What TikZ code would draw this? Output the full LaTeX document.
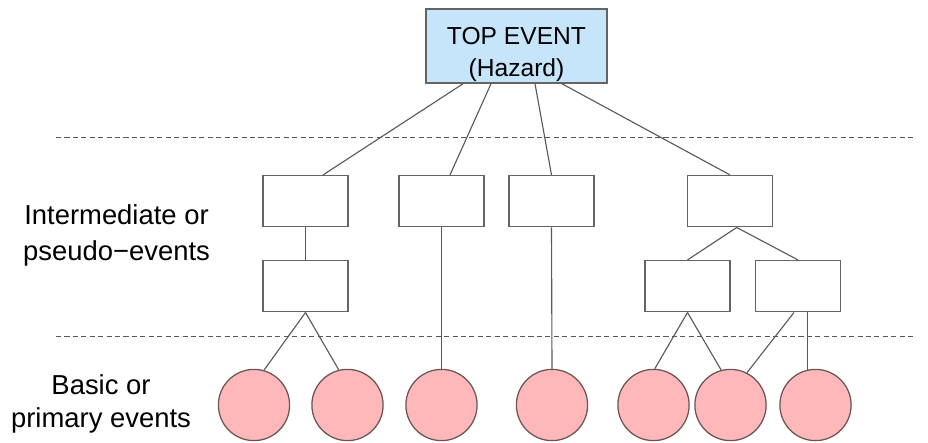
\documentclass[tikz,border=0pt]{standalone}
\usepackage{fontspec}
\setmainfont{Liberation Sans}
\definecolor{hazardblue}{RGB}{198,229,250}
\definecolor{eventpink}{RGB}{255,184,186}
\definecolor{eventrim}{RGB}{105,85,85}
\definecolor{boxgray}{RGB}{100,100,100}

\begin{document}
\begin{tikzpicture}[
    x=0.025cm, y=-0.025cm,
    topev/.style={
        rectangle, draw=boxgray, fill=hazardblue, line width=1.1pt,
        minimum width=4.525cm, minimum height=1.85cm, inner sep=0pt,
        align=center, font=\fontsize{17.5}{23}\selectfont
    },
    midev/.style={
        rectangle, draw=boxgray, fill=white, line width=1.1pt,
        minimum width=2.125cm, minimum height=1.275cm, inner sep=0pt
    },
    basicev/.style={
        circle, draw=eventrim, fill=eventpink, line width=0.9pt,
        minimum size=1.78cm, inner sep=0pt
    },
    levelname/.style={align=center, inner sep=0pt},
    link/.style={draw=black!65, line width=0.8pt},
    divider/.style={black!65, line width=0.6pt, dash pattern=on 3.6pt off 2.4pt}
]
\useasboundingbox (0,0) rectangle (928,442);

% --- Level dividers ---
\draw[divider] (56,137) -- (915,137);
\draw[divider] (56,336) -- (915,336);

% --- Row labels ---
\node[levelname, font=\fontsize{19.5}{25.5}\selectfont] (midlbl) at (116.5,235.5) {
    Intermediate or \\
    pseudo−events
};
\node[levelname, font=\fontsize{19.5}{23.5}\selectfont] (baselbl) at (101,403.5) {
    Basic or \\
    primary events
};

% --- Top event ---
\node[topev] (top) at (516.5,46) {\rule{0pt}{24pt}TOP EVENT \\ (Hazard)};

% --- Intermediate events ---
\node[midev] (im1) at (305.5,201.2) {};
\node[midev] (im2) at (441.5,201.2) {};
\node[midev] (im3) at (551.5,201.2) {};
\node[midev] (im4) at (730,201.2) {};
\node[midev] (im5) at (305.5,286.2) {};
\node[midev] (im6) at (687.5,286.2) {};
\node[midev] (im7) at (798,286.2) {};

% --- Basic events ---
\node[basicev] (ev1) at (254,405) {};
\node[basicev] (ev2) at (347.5,405) {};
\node[basicev] (ev3) at (441.5,405) {};
\node[basicev] (ev4) at (552,405) {};
\node[basicev] (ev5) at (653.5,405) {};
\node[basicev] (ev6) at (730.5,405) {};
\node[basicev] (ev7) at (815.5,405) {};

% --- Links ---
\draw[link] ([xshift=-1.3375cm]top.south) -- ([xshift=0.4375cm]im1.north);
\draw[link] ([xshift=-0.6375cm]top.south) -- ([xshift=0.2125cm]im2.north);
\draw[link] ([xshift=0.4625cm]top.south)  -- (im3.north);
\draw[link] ([xshift=1.1375cm]top.south)  -- (im4.north);

\draw[link] (im1.south) -- (im5.north);
\draw[link] ([xshift=0.1675cm]im4.south) -- (im6.north);
\draw[link] ([xshift=0.1675cm]im4.south) -- (im7.north);

\draw[link] (im5.south) -- (ev1.74);
\draw[link] (im5.south) -- (ev2.104);
\draw[link] (im2.south) -- (ev3.north);
\draw[link] (im3.south) -- (ev4.north);
\draw[link] (im6.south) -- (ev5.88);
\draw[link] (im6.south) -- (ev6.105);
\draw[link] ([xshift=-0.1cm]im7.south) -- (ev6.63);
\draw[link] (ev7.103 |- im7.south) -- (ev7.103);

\end{tikzpicture}
\end{document}
